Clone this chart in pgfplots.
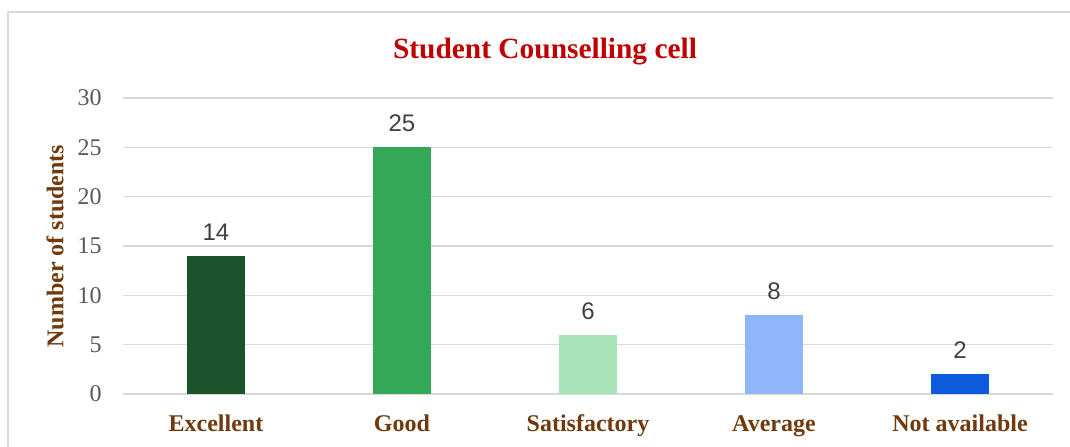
\documentclass[border=0pt]{standalone}
\usepackage{fontspec}
\setmainfont{Liberation Serif}
\newfontfamily\sansf{Liberation Sans}
\usepackage{pgfplots}
\pgfplotsset{compat=1.18}
\definecolor{titlered}{RGB}{192,0,0}
\definecolor{lblbrown}{RGB}{112,58,12}
\definecolor{tickgray}{RGB}{89,89,89}
\definecolor{valgray}{RGB}{64,64,64}
\definecolor{gridgray}{RGB}{217,217,217}
\definecolor{cA}{RGB}{27,83,45}
\definecolor{cB}{RGB}{53,168,87}
\definecolor{cC}{RGB}{168,228,184}
\definecolor{cD}{RGB}{143,181,250}
\definecolor{cE}{RGB}{11,91,220}
\begin{document}
\begin{tikzpicture}
\path[use as bounding box] (-61.5pt,-26pt) rectangle (473.5pt,197pt);
\draw[gridgray, line width=1pt] (-57.5pt,-40pt) -- (-57.5pt,191pt) -- (480pt,191pt);
\begin{axis}[
  at={(0pt,0pt)}, anchor=south west,
  scale only axis, width=465pt, height=148pt,
  ymin=0, ymax=30, ytick={0,5,...,30},
  xmin=-0.5, xmax=4.5,
  xtick={0,1,2,3,4},
  xticklabels={Excellent,Good,Satisfactory,Average,Not available},
  axis lines*=left, axis line style={draw=none},
  major tick length=0pt,
  ymajorgrids, grid style={gridgray, line width=0.8pt},
  /pgf/number format/assume math mode=true,
  yticklabel style={font=\fontsize{12}{14}\selectfont, text=tickgray, anchor=east, inner sep=0pt, xshift=-10.5pt},
  xticklabel style={font=\fontsize{12}{14}\selectfont\bfseries, text=lblbrown, anchor=base, inner sep=0pt, yshift=-18.5pt},
  ylabel={Number of students},
  ylabel style={font=\fontsize{12}{14}\selectfont\bfseries, text=lblbrown, at={(axis description cs:-0.0731,0.5)}, anchor=center},
  title={Student Counselling cell},
  title style={font=\fontsize{14.7}{17}\selectfont\bfseries, text=titlered, at={(axis description cs:0.4538,1)}, anchor=base, inner sep=0pt, yshift=14pt},
  ybar, bar width=29pt, bar shift=0pt,
  nodes near coords,
  every node near coord/.append style={font=\sansf\fontsize{12}{14}\selectfont, text=valgray, anchor=south, inner sep=0pt, yshift=7.5pt},
]
\addplot[fill=cA, draw=none] coordinates {(0,14)};
\addplot[fill=cB, draw=none] coordinates {(1,25)};
\addplot[fill=cC, draw=none] coordinates {(2,6)};
\addplot[fill=cD, draw=none] coordinates {(3,8)};
\addplot[fill=cE, draw=none] coordinates {(4,2)};
\end{axis}
\end{tikzpicture}
\end{document}
